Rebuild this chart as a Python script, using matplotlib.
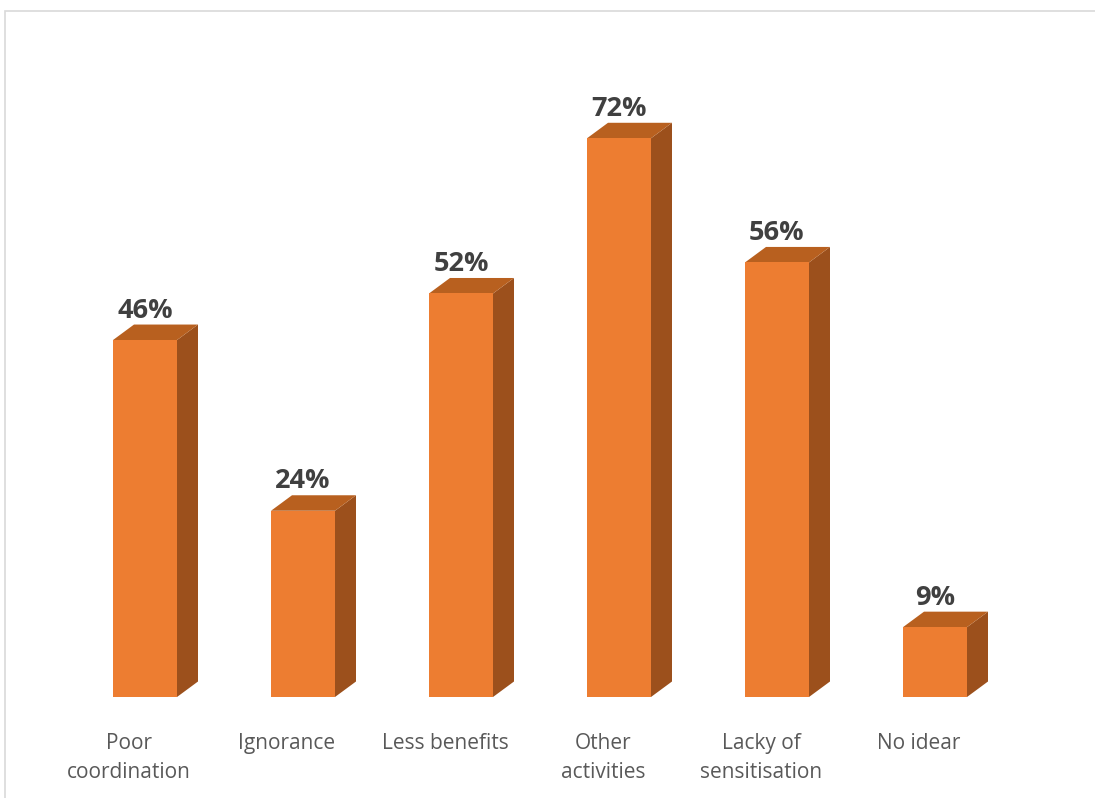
import matplotlib.pyplot as plt
from matplotlib.patches import Polygon, Rectangle

categories = ["Poor\ncoordination", "Ignorance", "Less benefits",
              "Other\nactivities", "Lacky of\nsensitisation", "No idear"]
values = [46, 24, 52, 72, 56, 9]
value_labels = ["46%", "24%", "52%", "72%", "56%", "9%"]

FRONT = "#ED7D31"
TOP = "#B8601F"
SIDE = "#9C501C"

fig = plt.figure(figsize=(10.95, 7.98), dpi=100)
ax = fig.add_axes([0, 0, 1, 1])
ax.set_xlim(-145 / 158, (1095 - 145) / 158)
ax.set_ylim(-(798 - 697) / 7.76, 697 / 7.76)
ax.axis("off")

width = 64 / 158
dx = 21 / 158
dy = 15.5 / 7.76

for i, v in enumerate(values):
    x0 = i - width / 2
    x1 = i + width / 2
    # side face
    ax.add_patch(Polygon([(x1, 0), (x1 + dx, dy), (x1 + dx, v + dy), (x1, v)],
                         closed=True, facecolor=SIDE, edgecolor="none", zorder=2))
    # top face
    ax.add_patch(Polygon([(x0, v), (x1, v), (x1 + dx, v + dy), (x0 + dx, v + dy)],
                         closed=True, facecolor=TOP, edgecolor="none", zorder=2))
    # front face
    ax.add_patch(Rectangle((x0, 0), width, v, facecolor=FRONT,
                           edgecolor="none", zorder=3))
    ax.text(i, v + dy + 0.1, value_labels[i], ha="center", va="bottom",
            fontsize=19.5, fontweight="bold", color="#404040",
            family="Open Sans", zorder=4)
    ax.text(i - 16 / 158, -4.7, categories[i], ha="center", va="top",
            fontsize=15, color="#595959", family="Open Sans",
            linespacing=1.45, zorder=4)

# chart frame
frame = Rectangle((5 / 1095, -0.05), 1.2, (798 - 11) / 798 + 0.05,
                  transform=ax.transAxes, facecolor="none",
                  edgecolor="#D9D9D9", linewidth=1.2, clip_on=False)
ax.add_patch(frame)

fig.savefig("out.png", dpi=100, facecolor="white")
